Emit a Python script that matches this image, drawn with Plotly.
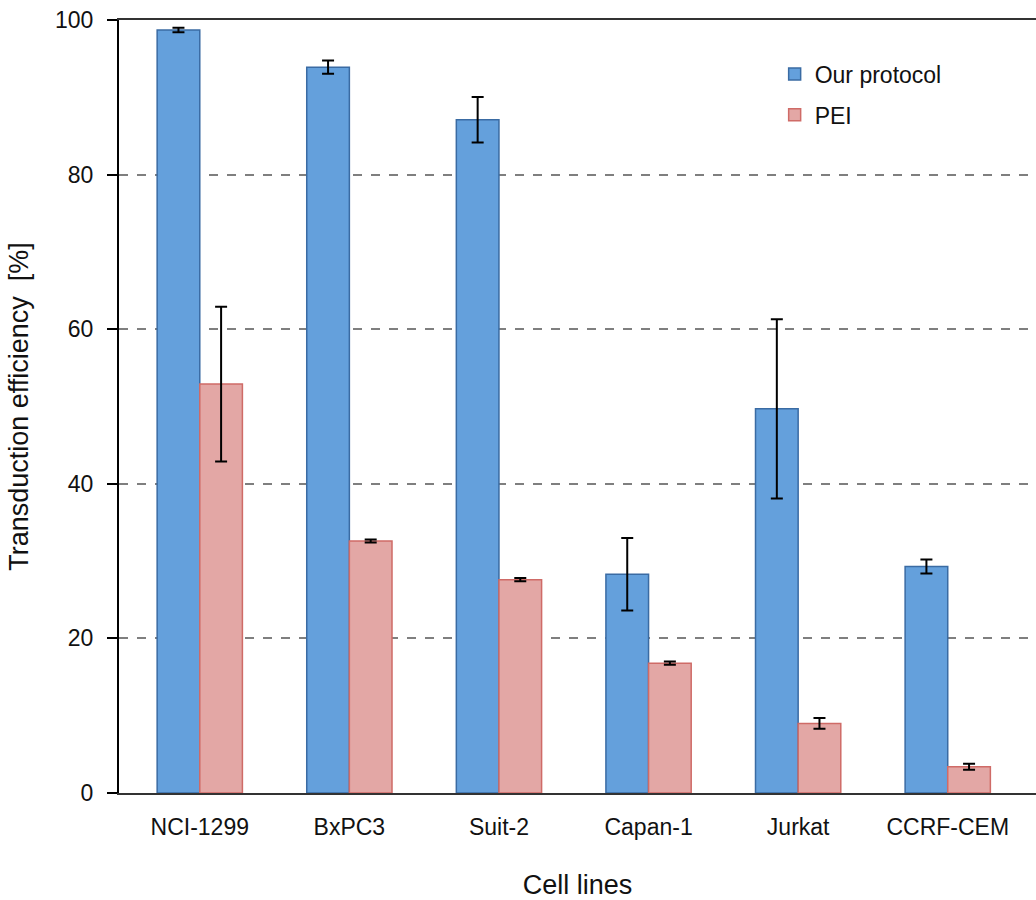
import plotly.graph_objects as go

cell_lines = ["NCI-1299", "BxPC3", "Suit-2", "Capan-1", "Jurkat", "CCRF-CEM"]
our_protocol = [98.7, 93.9, 87.1, 28.3, 49.7, 29.3]
our_protocol_err = [0.3, 0.85, 2.95, 4.7, 11.6, 0.9]
pei = [52.9, 32.6, 27.6, 16.8, 9.0, 3.4]
pei_err = [10.0, 0.2, 0.2, 0.2, 0.7, 0.4]

fig = go.Figure()
fig.add_trace(go.Bar(
    x=cell_lines, y=our_protocol, name="Our protocol", legendgroup="a",
    marker=dict(color="#64a0dc", line=dict(color="#3a6ba3", width=1.5)),
    error_y=dict(type="data", array=our_protocol_err, color="black", thickness=2, width=6),
))
fig.add_trace(go.Bar(
    x=cell_lines, y=pei, name="PEI", legendgroup="b",
    marker=dict(color="#e3a7a5", line=dict(color="#cf6b67", width=1.5)),
    error_y=dict(type="data", array=pei_err, color="black", thickness=2, width=6),
))

fig.update_layout(
    width=1036, height=900,
    margin=dict(l=119, r=0, t=20, b=107),
    paper_bgcolor="white", plot_bgcolor="white",
    barmode="group", bargap=0.43, bargroupgap=0,
    font=dict(family="Liberation Sans, Arial, sans-serif", color="#111111", size=22),
    showlegend=True,
    legend=dict(x=0.715, y=0.958, xanchor="left", yanchor="top",
                font=dict(size=23), tracegroupgap=8, bgcolor="rgba(0,0,0,0)"),
    xaxis=dict(
        range=[-0.54, 5.59],
        showline=True, linecolor="#333333", linewidth=2, mirror=True,
        ticks="", showgrid=False,
        tickfont=dict(size=23), ticklabelstandoff=12,
        title=dict(text="Cell lines", font=dict(size=27), standoff=42),
    ),
    yaxis=dict(
        range=[0, 100], tickvals=[0, 20, 40, 60, 80, 100],
        showline=True, linecolor="black", linewidth=2,
        ticks="outside", ticklen=10, tickwidth=2, tickcolor="black",
        showgrid=True, gridcolor="#7f7f7f", gridwidth=1.5, griddash="dash",
        zeroline=False,
        tickfont=dict(size=23), ticklabelstandoff=9,
        title=dict(text="Transduction efficiency  [%]", font=dict(size=27), standoff=19),
    ),
)

fig.write_html("out.html")
